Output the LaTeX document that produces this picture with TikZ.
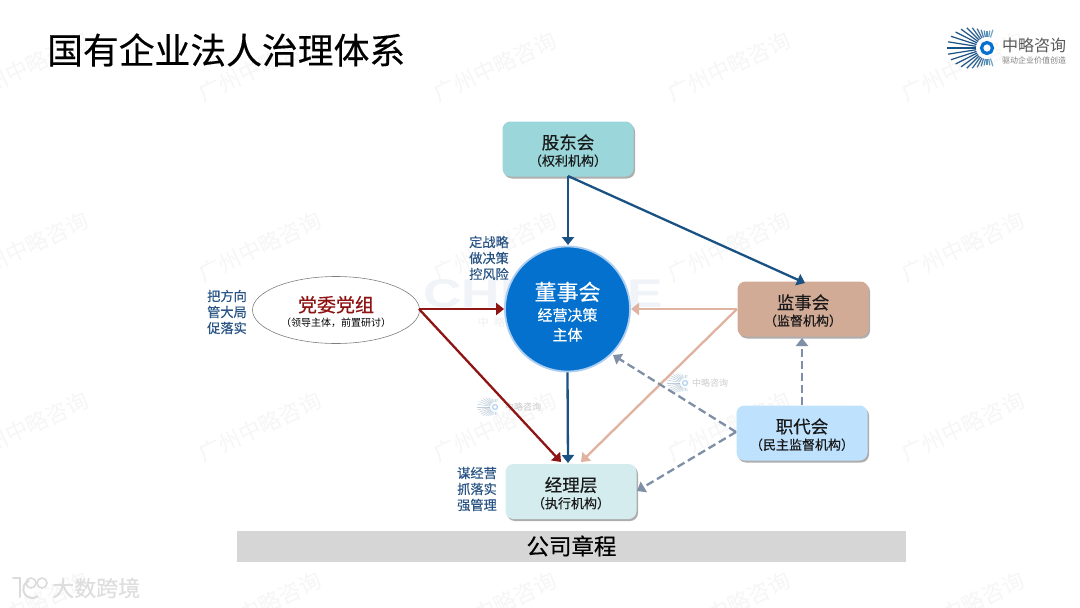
\documentclass[tikz,border=0pt]{standalone}
\usepackage{fontspec}
\setmainfont{Noto Sans CJK SC}
\newfontfamily\medf[FakeBold=0.35]{Noto Sans CJK SC}
\newfontfamily\latinf{Liberation Sans}
\usetikzlibrary{arrows.meta,shadows,shapes.geometric,calc}
\definecolor{navy}{HTML}{1B5284}
\definecolor{darkred}{HTML}{8F1414}
\definecolor{salmon}{HTML}{E0B3A0}
\definecolor{slategr}{HTML}{7F8FA6}
\definecolor{boardblue}{HTML}{0571CE}
\definecolor{boardring}{HTML}{AACDF0}
\definecolor{labelblue}{HTML}{2A5585}
\definecolor{holdersfill}{HTML}{9BD7DA}
\definecolor{superfill}{HTML}{D2AB97}
\definecolor{stafffill}{HTML}{BEE1FD}
\definecolor{mgrfill}{HTML}{D4ECEE}
\definecolor{wmblue}{HTML}{F0F3F8}
\definecolor{raylight}{HTML}{9CCDEB}
\newcommand{\bigt}{\medf\fontsize{17.5}{21}\selectfont\rule{0pt}{18pt}}
\newcommand{\smallt}{\medf\fontsize{13}{15}\selectfont}
\newcommand{\bluelogo}[3]{%
  \begin{scope}[shift={(#1,#2)},scale=#3,transform shape]
  \foreach \a in {72,81,...,288}{
    \pgfmathsetmacro{\len}{17+23*(cos(\a-180))^2+1.5*sin(20*\a)}
    \pgfmathsetmacro{\mx}{max(0,min(100,50+60*cos(\a-180)))}
    \draw[line width=#3*1.2pt,draw=navy!\mx!raylight] (\a:11) -- (\a:\len);
  }
  \draw[line width=#3*3.2pt,draw=boardblue] (0,0) circle (5.5);
  \end{scope}
}
\tikzset{
  x=1pt,y=-1pt,
  box/.style={draw=none,rounded corners=8pt,minimum width=131pt,minimum height=55pt,align=center,inner sep=0pt,
    drop shadow={shadow xshift=1.5pt,shadow yshift=-2pt,fill=black!45,opacity=.7},text=black!90},
  link/.style={line width=2.3pt,-{Triangle[length=8pt,width=12pt]}},
  navylink/.style={link,draw=navy},
  redlink/.style={link,draw=darkred},
  salmonlink/.style={link,draw=salmon},
  dashlink/.style={link,draw=slategr,dash pattern=on 8pt off 4pt},
  note/.style={font=\medf\fontsize{13.2}{16}\selectfont,text=labelblue,align=center,inner sep=0pt},
  wm/.style={font=\fontsize{22}{22}\selectfont,text=black!3.5,rotate=25,inner sep=0pt},
}
\begin{document}
\begin{tikzpicture}
\useasboundingbox (0,0) rectangle (1080,608);
\fill[white] (0,0) rectangle (1080,608);
% watermarks
\foreach \y in {67,247,427,607}{
  \foreach \x in {27,260,495,729,963}{
    \node[wm] (w\x-\y) at (\x,\y) {广州中略咨询};
  }
}
\node[font=\latinf\bfseries\fontsize{40}{40}\selectfont,text=wmblue,inner sep=0pt,transform shape,xscale=1.33] (chwm) at (543,294) {CHINEHE};
\node[font=\fontsize{11}{11}\selectfont,text=black!6,inner sep=0pt] (wmsub) at (544,322) {中~~略~~咨~~询~~~~~~价~~值~~创~~造};
% faint small logos
\begin{scope}[opacity=.28]
\bluelogo{495}{407}{.45}
\node[anchor=west,inner sep=0pt,font=\fontsize{9}{9}\selectfont,text=black!70] (sl1) at (505,407) {中略咨询};
\bluelogo{685}{383}{.45}
\node[anchor=west,inner sep=0pt,font=\fontsize{9}{9}\selectfont,text=black!70] (sl2) at (692,383) {中略咨询};
\end{scope}
% title
\node[anchor=west,inner sep=0pt,font=\medf\fontsize{35.8}{38}\selectfont,text=black] (title) at (47,50) {国有企业法人治理体系};
% logo
\bluelogo{987}{48}{1}
\node[anchor=west,inner sep=0pt,font=\fontsize{16}{16}\selectfont,text=black!65] (lg1) at (1002,45) {中略咨询};
\node[anchor=west,inner sep=0pt,font=\fontsize{8}{8}\selectfont,text=black!50] (lg2) at (1002,60) {驱动企业价值创造};
% footer
\draw[line width=2pt,draw=black!14,line cap=round] (13,578) -- (20,578) -- (20,597);
\draw[line width=2pt,draw=black!14] (38,596) arc[start angle=50,end angle=250,radius=9];
\draw[line width=1.6pt,draw=black!14] (31,583) circle (5);
\draw[line width=1.6pt,draw=black!14] (42,583) circle (5);
\node[anchor=west,inner sep=0pt,font=\medf\fontsize{22}{22}\selectfont,text=black!13] (ft) at (52,588) {大数跨境};
% base bar
\node[fill=black!16,minimum width=669pt,minimum height=31pt,inner sep=0pt,font=\medf\fontsize{22.5}{22.5}\selectfont,text=black] (bar) at (571.5,546) {公司章程};
% nodes
\node[box,fill=holdersfill] (holders) at (568,149) {{\bigt 股东会}\\[3pt]{\smallt （权利机构）}};
\node[box,fill=superfill] (super) at (803,309) {{\bigt 监事会}\\[3pt]{\smallt （监督机构）}};
\node[box,fill=stafffill] (staff) at (802,433) {{\bigt 职代会}\\[3pt]{\smallt （民主监督机构）}};
\node[box,fill=mgrfill] (mgr) at (571,491.5) {{\bigt 经理层}\\[3pt]{\smallt （执行机构）}};
\node[circle,fill=boardblue,draw=boardring,line width=1.8pt,minimum size=125pt,inner sep=0pt,align=center,text=white] (board) at (567.5,309) {{\medf\fontsize{22}{26}\selectfont\rule{0pt}{24pt}董事会}\\[5pt]{\medf\fontsize{15}{20}\selectfont 经营决策}\\[5pt]{\medf\fontsize{15}{20}\selectfont 主体}};
\node[ellipse,draw=black!50,line width=.6pt,fill=white,minimum width=167pt,minimum height=67pt,inner sep=0pt,align=center] (party) at (336,310) {{\medf\fontsize{19}{23}\selectfont\color{darkred}\rule{0pt}{20pt}党委党组}\\[3pt]{\fontsize{10}{12}\selectfont （领导主体，前置研讨）}};
% notes
\node[note] (n1) at (489,258) {定战略\\做决策\\控风险};
\node[note] (n2) at (227,312) {把方向\\管大局\\促落实};
\node[note] (n3) at (477,489) {谋经营\\抓落实\\强管理};
% free ends
\coordinate (hb) at (568,176);
\coordinate (hs) at (805,283);
\coordinate (bt) at (568,245);
\coordinate (mt) at (568,463);
\coordinate (mr) at (561,462);
\coordinate (ms) at (581,462);
\coordinate (sl) at (737,309);
\coordinate (bs) at (631,309);
\coordinate (stl) at (736,432);
\coordinate (st) at (802,405);
\coordinate (pr) at (419,309);
\coordinate (bd) at (613,355);
\coordinate (me) at (637,491);
\coordinate (su) at (802,338);
% connectors
\draw[navylink] (hb) -- (bt);
\draw[navylink] (hb) -- (hs);
\draw[navylink] (board.south) -- (mt);
\draw[redlink] (pr) -- (board.west);
\draw[redlink] (pr) -- (mr);
\draw[salmonlink] (sl) -- (bs);
\draw[salmonlink] (sl) -- (ms);
\draw[dashlink] (stl) -- (bd);
\draw[dashlink] (stl) -- (me);
\draw[dashlink] (st) -- (su);
\end{tikzpicture}
\end{document}
